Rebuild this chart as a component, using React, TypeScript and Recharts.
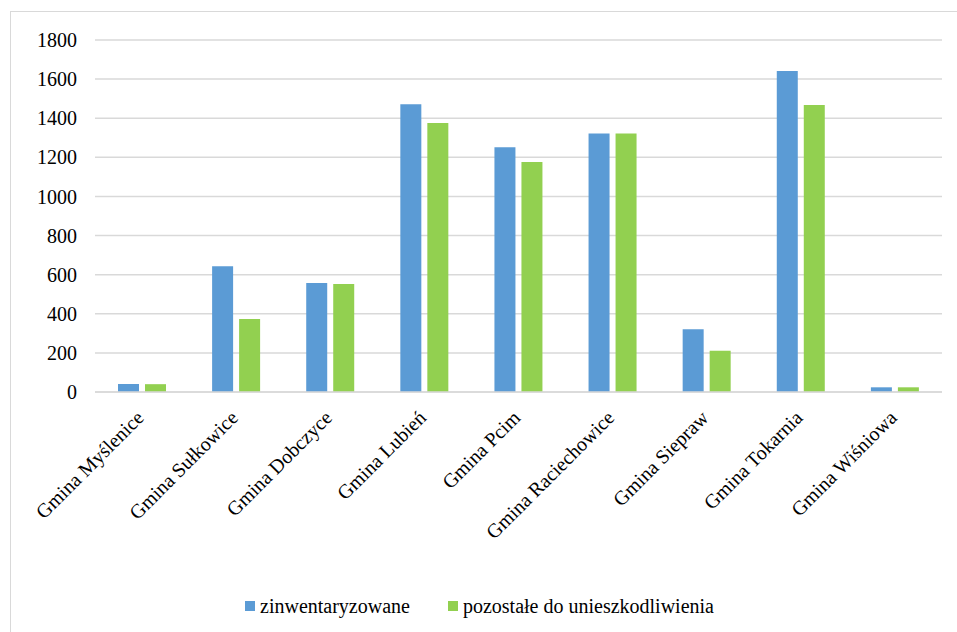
import React from 'react';
import { BarChart, Bar, XAxis, YAxis, CartesianGrid, ReferenceLine } from 'recharts';

const categories = [
  'Gmina Myślenice',
  'Gmina Sułkowice',
  'Gmina Dobczyce',
  'Gmina Lubień',
  'Gmina Pcim',
  'Gmina Raciechowice',
  'Gmina Siepraw',
  'Gmina Tokarnia',
  'Gmina Wiśniowa',
];
const inventoried = [41, 643, 557, 1471, 1251, 1322, 321, 1641, 24];
const remaining = [40, 373, 552, 1375, 1176, 1322, 211, 1468, 24];
const yTicks = [0, 200, 400, 600, 800, 1000, 1200, 1400, 1600, 1800];
const seriesNames = ['zinwentaryzowane', 'pozostałe do unieszkodliwienia'];

const COLORS = ['#5B9BD5', '#92D050'];
const FONT = '"Liberation Serif", "Times New Roman", serif';

const data = categories.map((name, i) => ({
  name,
  a: inventoried[i],
  b: remaining[i],
}));

const AngledTick = (props: any) => {
  const { x, y, payload } = props;
  const tx = x + 3;
  const ty = y + 27;
  return (
    <text
      x={tx}
      y={ty}
      transform={`rotate(-45, ${tx}, ${ty})`}
      textAnchor="end"
      style={{ fontFamily: FONT, fontSize: 20 }}
      fill="#000"
    >
      {payload.value}
    </text>
  );
};

export default function App() {
  return (
    <div
      style={{
        position: 'absolute',
        left: 0,
        top: 0,
        width: 957,
        height: 632,
        overflow: 'hidden',
        background: '#fff',
        fontFamily: FONT,
      }}
    >
      <div
        style={{
          position: 'absolute',
          left: 10,
          top: 11,
          width: 970,
          height: 650,
          border: '1px solid #d9d9d9',
        }}
      />
      <div style={{ position: 'absolute', left: 0, top: 0 }}>
        <BarChart
          width={957}
          height={632}
          data={data}
          margin={{ top: 40, right: 15, bottom: 0, left: 0 }}
          barSize={21}
          barGap={6}
        >
          <CartesianGrid vertical={false} stroke="#d9d9d9" strokeWidth={1.5} />
          <YAxis
            width={95}
            domain={[0, 1800]}
            ticks={yTicks}
            interval={0}
            tickLine={false}
            axisLine={false}
            tickSize={0}
            tickMargin={18}
            tick={{ style: { fontFamily: FONT, fontSize: 20 }, fill: '#000' }}
          />
          <XAxis
            dataKey="name"
            height={240}
            interval={0}
            tickLine={false}
            axisLine={false}
            tickSize={0}
            tickMargin={0}
            tick={<AngledTick />}
          />
          <Bar dataKey="a" name={seriesNames[0]} fill={COLORS[0]} isAnimationActive={false} />
          <Bar dataKey="b" name={seriesNames[1]} fill={COLORS[1]} isAnimationActive={false} />
          <ReferenceLine y={0} stroke="#d9d9d9" strokeWidth={1.5} />
        </BarChart>
      </div>
      <div
        style={{
          position: 'absolute',
          left: 245,
          top: 594,
          display: 'flex',
          alignItems: 'center',
          fontFamily: FONT,
          fontSize: 20,
          lineHeight: '24px',
          color: '#000',
          whiteSpace: 'nowrap',
        }}
      >
        {seriesNames.map((n, i) => (
          <div
            key={n}
            style={{ display: 'flex', alignItems: 'center', marginRight: i === 0 ? 38 : 0 }}
          >
            <span
              style={{
                display: 'inline-block',
                width: 10,
                height: 10,
                background: COLORS[i],
                marginRight: 5,
              }}
            />
            <span>{n}</span>
          </div>
        ))}
      </div>
    </div>
  );
}
